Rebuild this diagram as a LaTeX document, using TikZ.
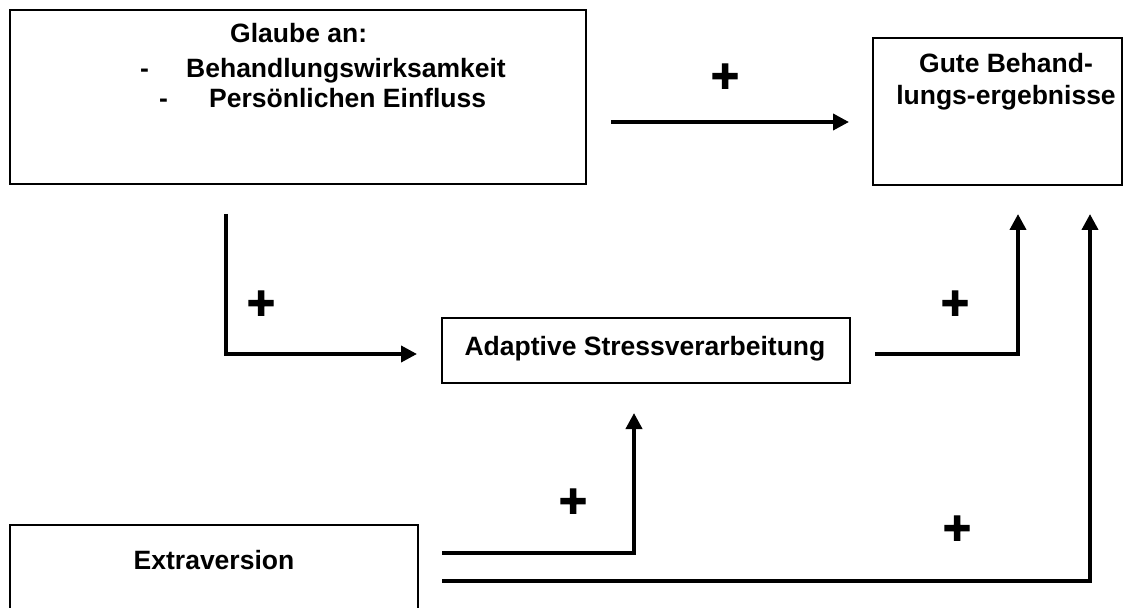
\documentclass[tikz,border=0pt]{standalone}
\usepackage{fontspec}
\setmainfont{Liberation Sans}
\newfontfamily\plusfont{Liberation Sans}[BoldFeatures={FakeBold=2.5}]
\usetikzlibrary{arrows.meta}

\tikzset{
  box/.style={draw=black, line width=1.8bp, inner sep=0pt, fill=white},
  label/.style={inner sep=0pt, font=\fontsize{26.5bp}{30bp}\selectfont\bfseries},
  plussign/.style={inner sep=0pt, font=\plusfont\fontsize{48bp}{48bp}\selectfont\bfseries},
  link/.style={line width=3.8bp, line cap=butt, line join=miter,
    -{Triangle[length=16bp,width=16bp]}}
}

\begin{document}
\begin{tikzpicture}[x=1bp, y=-1bp]
  \useasboundingbox (0,0) rectangle (1130,608);
  \clip (0,0) rectangle (1130,608);

  % boxes
  \node[box, minimum width=576bp, minimum height=174bp] (belief) at (298,97) {};
  \node[box, minimum width=249bp, minimum height=147bp] (outcome) at (997.5,111.5) {};
  \node[box, minimum width=408bp, minimum height=65bp] (coping) at (646,350.5) {};
  \node[box, minimum width=408bp, minimum height=125bp] (extra) at (214,587.5) {};

  % texts of the belief box
  \node[label, anchor=base west] (bl1) at (230,42.5) {Glaube an:};
  \node[label, anchor=base west] (bd1) at (140,77.5) {-};
  \node[label, anchor=base west] (bl2) at (186,77.5) {Behandlungswirksamkeit};
  \node[label, anchor=base west] (bd2) at (159,107.5) {-};
  \node[label, anchor=base west] (bl3) at (209,107.5) {Persönlichen Einfluss};

  % texts of the outcome box
  \node[label, anchor=base] (ol1) at (1006,73) {Gute Behand-};
  \node[label, anchor=base] (ol2) at (1006,105) {lungs-ergebnisse};

  % other box texts
  \node[label, anchor=base] (cl) at (645,355.5) {Adaptive Stressverarbeitung};
  \node[label, anchor=base] (el) at (214,569.5) {Extraversion};

  % connector end points
  \coordinate (p1s) at (611,122);
  \coordinate (p1e) at (849,122);
  \coordinate (p2s) at (226,214);
  \coordinate (p2c) at (226,354);
  \coordinate (p2e) at (417,354);
  \coordinate (p3s) at (875,354);
  \coordinate (p3c) at (1018,354);
  \coordinate (p3e) at (1018,214);
  \coordinate (p4s) at (442,553);
  \coordinate (p4c) at (634,553);
  \coordinate (p4e) at (634,413);
  \coordinate (p5s) at (442,581);
  \coordinate (p5c) at (1090,581);
  \coordinate (p5e) at (1090,214);

  % connectors
  \draw[link] (p1s) -- (p1e);
  \draw[link] (p2s) -- (p2c) -- (p2e);
  \draw[link] (p3s) -- (p3c) -- (p3e);
  \draw[link] (p4s) -- (p4c) -- (p4e);
  \draw[link] (p5s) -- (p5c) -- (p5e);

  % signs of the effects
  \node[plussign] (s1) at (725,78) {+};
  \node[plussign] (s2) at (261,305) {+};
  \node[plussign] (s3) at (955,305) {+};
  \node[plussign] (s4) at (573,503) {+};
  \node[plussign] (s5) at (957,530) {+};
\end{tikzpicture}
\end{document}
